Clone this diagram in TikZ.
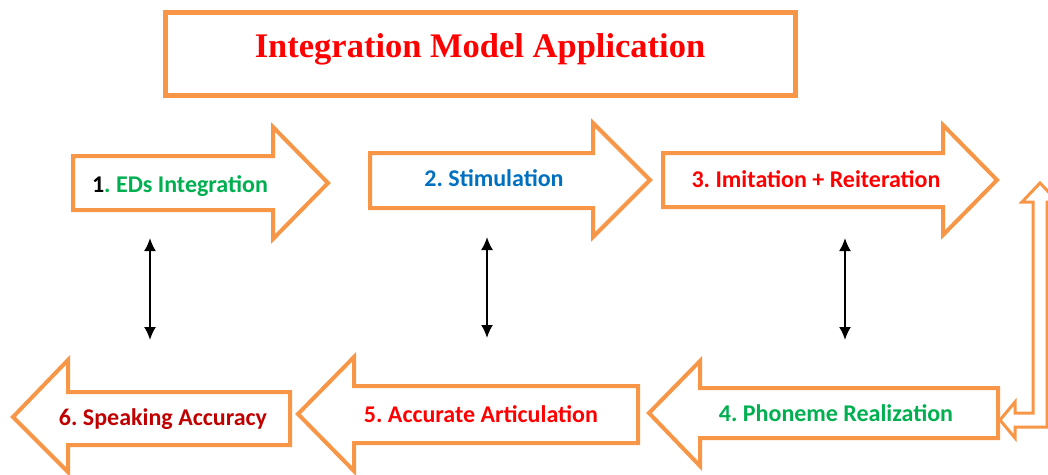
\documentclass[tikz,border=0pt]{standalone}
\usepackage{fontspec}
\setmainfont{Carlito}
\newfontfamily\titlefont{Liberation Serif}
\usetikzlibrary{arrows.meta}
\definecolor{borderorange}{HTML}{F79646}
\definecolor{lblgreen}{HTML}{00B050}
\definecolor{lblblue}{HTML}{0070C0}
\definecolor{lblred}{HTML}{FF0000}
\definecolor{lbldarkred}{HTML}{C00000}
\frenchspacing
\begin{document}
\begin{tikzpicture}[x=1pt,y=-1pt,
  blockarrow/.style={draw=borderorange, line width=4pt, line join=miter, fill=white},
  bentarrow/.style={draw=borderorange, line width=3pt, line join=miter, fill=white},
  titlebox/.style={draw=borderorange, line width=5pt, fill=white},
  steplabel/.style={font=\fontsize{24}{28}\selectfont\bfseries, inner sep=0pt, anchor=base},
  titlelabel/.style={font=\titlefont\fontsize{34.5}{40}\selectfont\bfseries, text=lblred, inner sep=0pt, anchor=base},
  link/.style={draw=black, line width=2pt, {Latex[length=13pt,width=12pt]}-{Latex[length=13pt,width=12pt]}},
]
\useasboundingbox (0,0) rectangle (1048,474);
\clip (0,0) rectangle (1048,474);

% title
\draw[titlebox] (165,12) rectangle (795,95);
\node[titlelabel] (title) at (480,57) {Integration Model Application};

% top row arrows
\draw[blockarrow] (73,156) -- (273,156) -- (273,127) -- (328,183) -- (273,239) -- (273,210) -- (73,210) -- cycle;
\draw[blockarrow] (370,153) -- (593,153) -- (593,123) -- (650,180) -- (593,237) -- (593,208) -- (370,208) -- cycle;
\draw[blockarrow] (663,153) -- (943,153) -- (943,125) -- (997,180) -- (943,235) -- (943,207) -- (663,207) -- cycle;

% bent return arrow on the right
\draw[bentarrow] (1040,183) -- (1058,202) -- (1047,202) -- (1047,427) -- (1015,427) -- (1015,438) -- (1000,420) -- (1015,402) -- (1015,413) -- (1033,413) -- (1033,202) -- (1022,202) -- cycle;

% bottom row arrows
\draw[blockarrow] (998,388) -- (700,388) -- (700,361) -- (649,413) -- (700,466) -- (700,438) -- (998,438) -- cycle;
\draw[blockarrow] (638,386) -- (354,386) -- (354,357) -- (298,414) -- (354,471) -- (354,443) -- (638,443) -- cycle;
\draw[blockarrow] (290,392) -- (68,392) -- (68,360) -- (13,417) -- (68,472) -- (68,445) -- (290,445) -- cycle;

% labels
\node[steplabel] (s1) at (180,192) {{\color{black}1}{\color{lblgreen}. EDs Integration}};
\node[steplabel, text=lblblue] (s2) at (494,186) {2. Stimulation};
\node[steplabel, text=lblred] (s3) at (816,187) {3. Imitation + Reiteration};
\node[steplabel, text=lblgreen] (s4) at (836,421) {4. Phoneme Realization};
\node[steplabel, text=lblred] (s5) at (481,422) {5. Accurate Articulation};
\node[steplabel, text=lbldarkred] (s6) at (163,425) {6. Speaking Accuracy};

% vertical links
\coordinate (l1a) at (150,238); \coordinate (l1b) at (150,340);
\coordinate (l2a) at (487,237); \coordinate (l2b) at (487,338);
\coordinate (l3a) at (845,238); \coordinate (l3b) at (845,340);
\draw[link] (l1a) -- (l1b);
\draw[link] (l2a) -- (l2b);
\draw[link] (l3a) -- (l3b);
\end{tikzpicture}
\end{document}
